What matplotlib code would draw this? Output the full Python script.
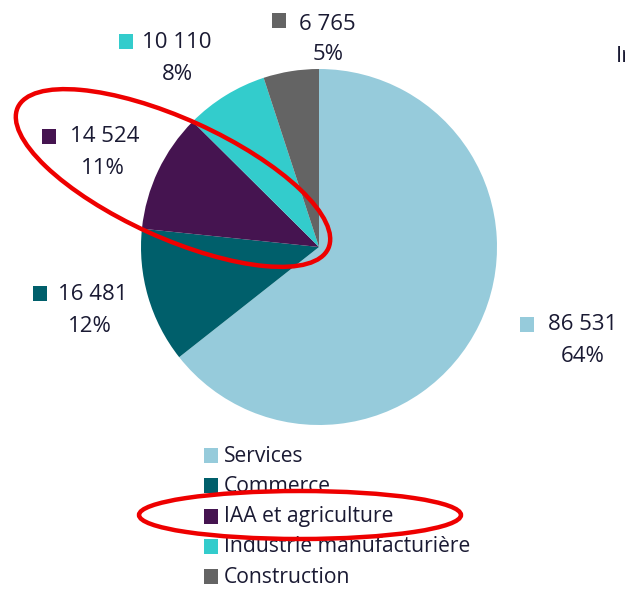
import matplotlib
matplotlib.use("Agg")
import matplotlib.pyplot as plt
from matplotlib.patches import Rectangle, Ellipse

# data
categories = ["Services", "Commerce", "IAA et agriculture", "Industrie manufacturière", "Construction"]
values = [86531, 16481, 14524, 10110, 6765]
colors = ["#96CBDB", "#005F6B", "#451450", "#33CCCC", "#646464"]

W, H = 625, 591
def Y(p):
    return H - p

plt.rcParams['font.family'] = ['Open Sans', 'DejaVu Sans']
txt_color = "#1a1a33"

fig = plt.figure(figsize=(W / 100, H / 100), dpi=100)
ax = fig.add_axes([0, 0, 1, 1])

# pie, clockwise from top
ax.pie(values, colors=colors, startangle=90, counterclock=False,
       center=(319, Y(247)), radius=178, frame=True,
       wedgeprops=dict(linewidth=0))
ax.set_xlim(0, W)
ax.set_ylim(0, H)
ax.axis("off")

# value labels (layout positions in pixels)
sq_pos = [(520, 317), (33, 286), (42, 129), (119, 34), (272, 13)]
num_pos = [(583, 325), (93, 294), (105, 137), (177, 43), (327, 24)]
pct_pos = [(583, 356), (90, 326), (103, 168), (177, 74), (328, 54)]

total = sum(values)
for i, v in enumerate(values):
    sx, sy = sq_pos[i]
    ax.add_patch(Rectangle((sx, Y(sy + 15)), 14, 15, color=colors[i], lw=0))
    nx, ny = num_pos[i]
    ax.text(nx, Y(ny), f"{v:,}".replace(",", " "), ha="center", va="center",
            fontsize=16, color=txt_color)
    px, py = pct_pos[i]
    ax.text(px, Y(py), f"{round(100 * v / total)}%", ha="center", va="center",
            fontsize=16, color=txt_color)

# legend
for i, c in enumerate(categories):
    ly = 456 + i * 30.3
    ax.add_patch(Rectangle((204, Y(ly + 7)), 14, 15, color=colors[i], lw=0))
    ax.text(224, Y(ly), c, ha="left", va="center", fontsize=15.2, color=txt_color)

# cut-off text on the right
ax.text(616, Y(57), "In", ha="left", va="center", fontsize=16, color=txt_color)

# red highlight ellipses
ax.add_patch(Ellipse((173, Y(178)), 341, 119, angle=-24.4, fill=False,
                     edgecolor="#ee0000", lw=3.2, zorder=10))
ax.add_patch(Ellipse((300, Y(515)), 322, 48, angle=0, fill=False,
                     edgecolor="#ee0000", lw=3.2, zorder=10))

fig.savefig("out.png", dpi=100)
